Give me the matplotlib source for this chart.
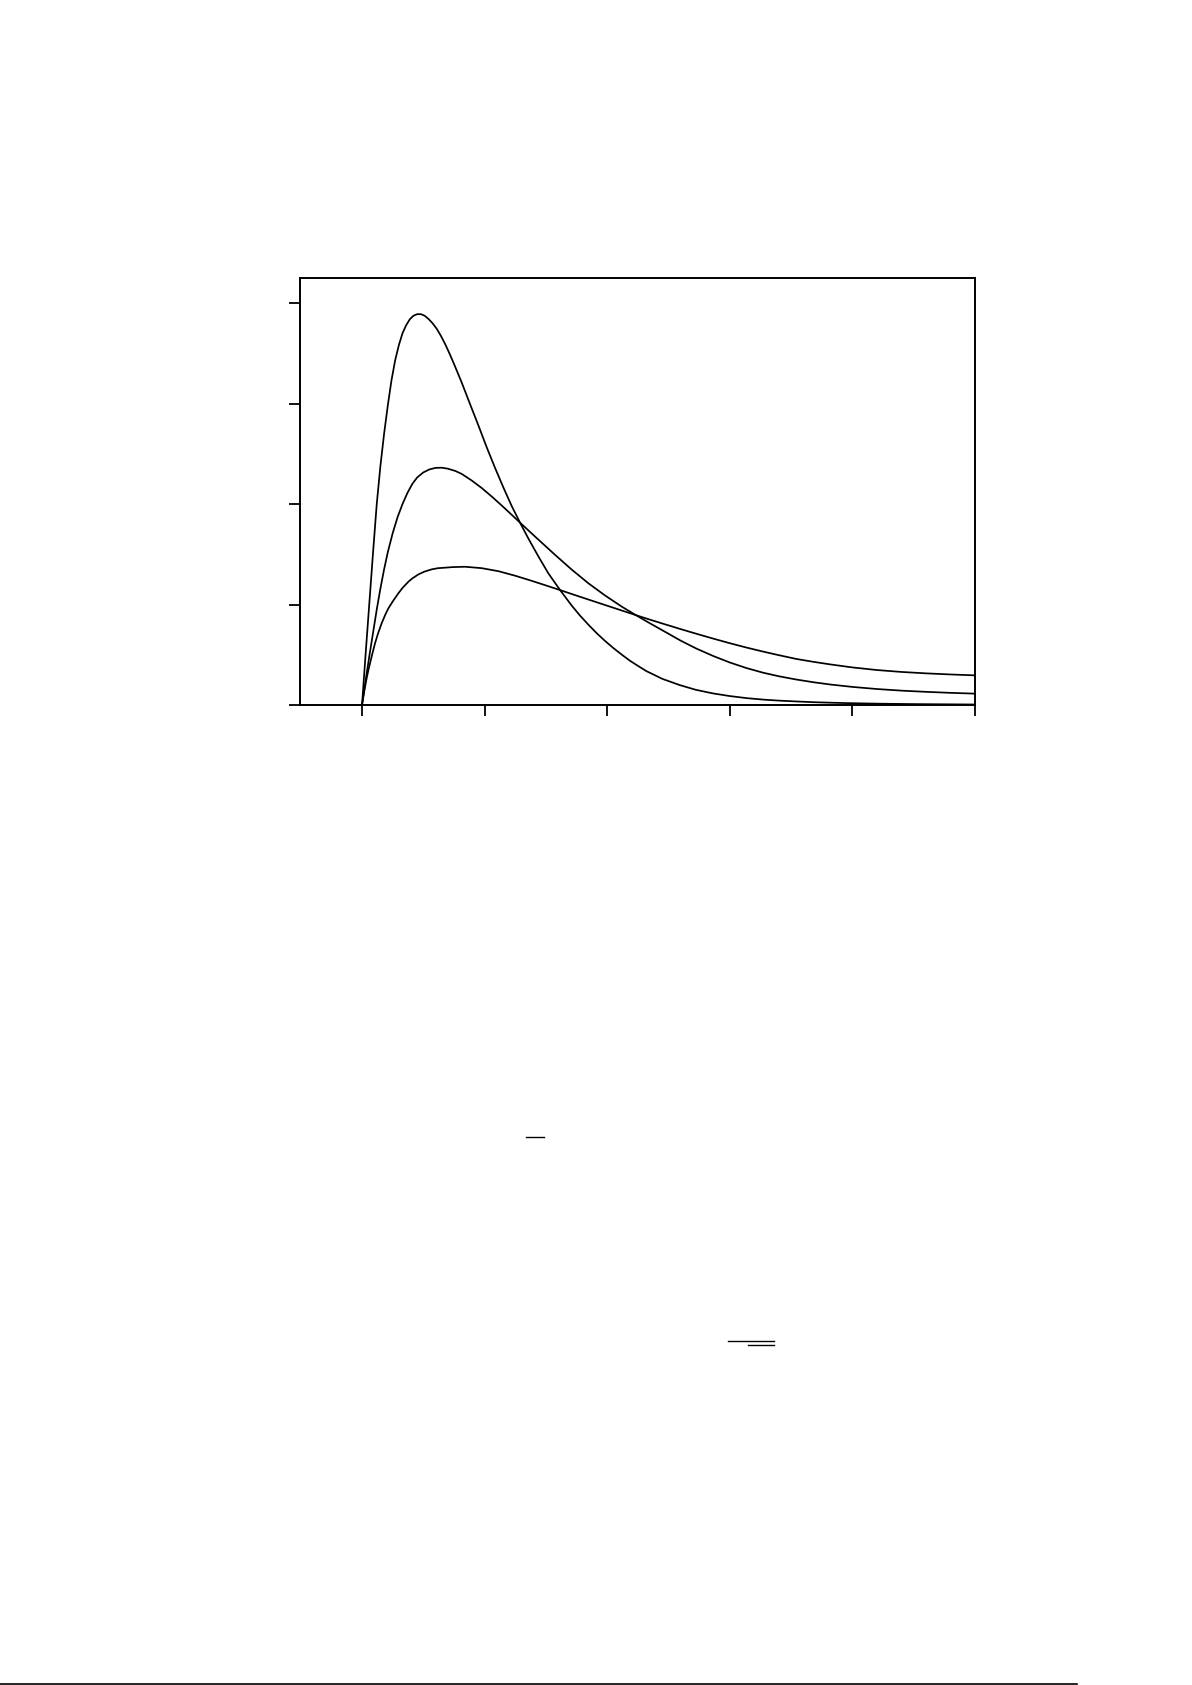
import matplotlib
matplotlib.use("Agg")
import matplotlib.pyplot as plt
from matplotlib.lines import Line2D

# curves (x in tick units, y in tick units)
# tall narrow curve
x_a = [0, 0.03, 0.06, 0.09, 0.12, 0.15, 0.18, 0.21, 0.24, 0.27,
       0.30, 0.33, 0.36, 0.39, 0.42, 0.45, 0.48, 0.51, 0.54, 0.575,
       0.609, 0.643, 0.677, 0.711, 0.745, 0.813, 0.881, 0.95, 1.017, 1.085,
       1.153, 1.221, 1.295, 1.36, 1.438, 1.52, 1.615, 1.71, 1.778, 1.846,
       1.914, 1.98, 2.05, 2.12, 2.186, 2.25, 2.32, 2.45, 2.59, 2.72,
       2.86, 3.0, 3.14, 3.28, 3.41, 3.55, 3.68, 3.82, 3.95, 4.22,
       4.5, 4.75, 5.0]
y_a = [0, 0.52, 1.02, 1.52, 2.0, 2.38, 2.70, 2.98, 3.23, 3.43,
       3.58, 3.70, 3.78, 3.84, 3.875, 3.89, 3.89, 3.875, 3.845, 3.80,
       3.745, 3.675, 3.595, 3.505, 3.41, 3.21, 2.995, 2.78, 2.565, 2.36,
       2.165, 1.98, 1.80, 1.65, 1.48, 1.31, 1.145, 0.99, 0.89, 0.80,
       0.715, 0.64, 0.567, 0.50, 0.44, 0.39, 0.337, 0.26, 0.199, 0.152,
       0.116, 0.089, 0.068, 0.053, 0.043, 0.035, 0.028, 0.023, 0.019, 0.013,
       0.009, 0.007, 0.005]

# middle curve
x_b = [0, 0.03, 0.06, 0.09, 0.12, 0.15, 0.18, 0.21, 0.25, 0.29,
       0.33, 0.37, 0.41, 0.45, 0.5, 0.55, 0.6, 0.65, 0.7, 0.76,
       0.813, 0.894, 0.976, 1.058, 1.14, 1.221, 1.295, 1.41, 1.574, 1.71,
       1.846, 1.98, 2.12, 2.24, 2.35, 2.458, 2.6, 2.73, 2.87, 3.0,
       3.135, 3.27, 3.4, 3.54, 3.68, 3.82, 4.0, 4.2, 4.4, 4.6,
       4.8, 5.0]
y_b = [0, 0.25, 0.49, 0.72, 0.95, 1.16, 1.35, 1.52, 1.71, 1.87,
       2.0, 2.11, 2.20, 2.265, 2.315, 2.345, 2.36, 2.362, 2.352, 2.33,
       2.30, 2.235, 2.16, 2.075, 1.985, 1.893, 1.808, 1.678, 1.495, 1.348,
       1.212, 1.092, 0.978, 0.89, 0.812, 0.738, 0.64, 0.56, 0.485, 0.423,
       0.368, 0.322, 0.286, 0.254, 0.227, 0.204, 0.18, 0.159, 0.143, 0.131,
       0.121, 0.113]

# low wide curve
x_c = [0, 0.01, 0.02, 0.035, 0.052, 0.08, 0.106, 0.13, 0.16, 0.19,
       0.215, 0.25, 0.296, 0.33, 0.378, 0.41, 0.46, 0.51, 0.568, 0.62,
       0.704, 0.73, 0.84, 0.976, 1.112, 1.248, 1.384, 1.52, 1.615, 1.737,
       1.846, 1.995, 2.12, 2.24, 2.35, 2.458, 2.6, 2.73, 2.87, 3.0,
       3.135, 3.27, 3.4, 3.54, 3.68, 3.82, 4.0, 4.2, 4.4, 4.6,
       4.8, 5.0]
y_c = [0, 0.08, 0.15, 0.25, 0.348, 0.49, 0.614, 0.71, 0.813, 0.90,
       0.962, 1.03, 1.111, 1.165, 1.227, 1.26, 1.30, 1.328, 1.35, 1.362,
       1.369, 1.372, 1.376, 1.362, 1.332, 1.287, 1.236, 1.182, 1.144, 1.094,
       1.05, 0.99, 0.94, 0.892, 0.849, 0.808, 0.755, 0.708, 0.659, 0.615,
       0.572, 0.532, 0.496, 0.459, 0.43, 0.404, 0.374, 0.348, 0.329, 0.315,
       0.304, 0.295]

x_ticks = [0, 1, 2, 3, 4, 5]
y_ticks = [0, 1, 2, 3, 4]

W, H = 1192, 1685

fig = plt.figure(figsize=(W / 100, H / 100), dpi=100)
fig.patch.set_facecolor("white")

# axes box, placed in pixels of the page
ax = fig.add_axes([300 / W, 1 - 705 / H, 675 / W, 427 / H])

for xs, ys in [(x_a, y_a), (x_b, y_b), (x_c, y_c)]:
    ax.plot(xs, ys, color="black", linewidth=1.25,
            solid_joinstyle="round", solid_capstyle="round")

ax.set_xlim(-0.506, 5.0)
ax.set_ylim(0, 4.25)
ax.set_xticks(x_ticks)
ax.set_yticks(y_ticks)
ax.set_xticklabels([])
ax.set_yticklabels([])
ax.tick_params(direction="out", length=8, width=1.3, color="black")

for side in ax.spines:
    ax.spines[side].set_linewidth(1.4)
    ax.spines[side].set_color("black")

# leftover rules from the page (fraction bars and footer line)
def page_line(x0, x1, y, lw):
    fig.add_artist(Line2D([x0 / W, x1 / W], [1 - y / H, 1 - y / H],
                          transform=fig.transFigure, color="black", linewidth=lw))

page_line(526, 544, 1137, 1.0)
page_line(728, 774, 1341, 1.0)
page_line(748, 774, 1345, 1.0)
page_line(0, 1077, 1683.5, 1.2)

fig.savefig("out.png", dpi=100)
